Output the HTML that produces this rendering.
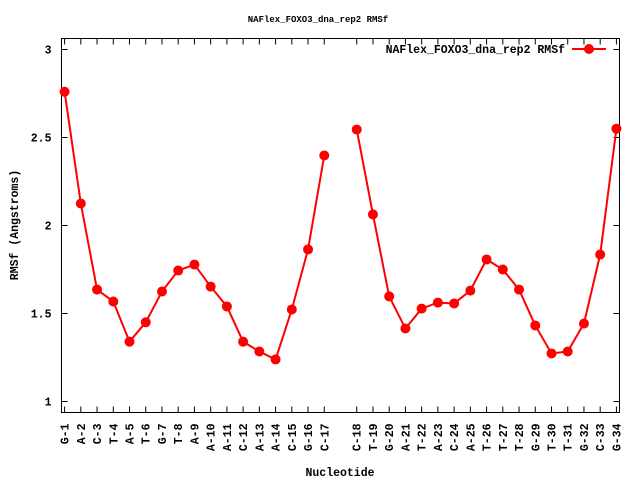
<!DOCTYPE html>
<html><head><meta charset="utf-8"><style>
body{margin:0;background:#fff}
svg{display:block}
text{font-family:"Liberation Mono","DejaVu Sans Mono",monospace;font-weight:bold;font-size:11.5px;fill:#000}
</style></head><body>
<svg id="chart" width="640" height="480" xmlns="http://www.w3.org/2000/svg">
<text x="318" y="22" text-anchor="middle" style="font-size:9px">NAFlex_FOXO3_dna_rep2 RMSf</text>
<text transform="translate(18,225) rotate(-90)" text-anchor="middle">RMSf (Angstroms)</text>
<text x="340" y="476" text-anchor="middle">Nucleotide</text>
<rect x="61.5" y="38.5" width="558" height="374" fill="none" stroke="#000"/>
<g id="axes"></g>
<g id="series"></g>
<g>
<text x="565" y="53" text-anchor="end">NAFlex_FOXO3_dna_rep2 RMSf</text>
<line x1="572" y1="49" x2="606" y2="49" stroke="#f00" stroke-width="2"/>
<circle cx="589" cy="49" r="5" fill="#f00"/>
</g>
</svg>
<script>
const categories=["G-1","A-2","C-3","T-4","A-5","T-6","G-7","T-8","A-9","A-10","A-11","C-12","A-13","A-14","C-15","G-16","C-17","C-18","T-19","G-20","A-21","T-22","A-23","C-24","A-25","T-26","T-27","T-28","G-29","T-30","T-31","G-32","C-33","G-34"];
const slots=[0,1,2,3,4,5,6,7,8,9,10,11,12,13,14,15,16,18,19,20,21,22,23,24,25,26,27,28,29,30,31,32,33,34];
const values=[2.76,2.125,1.636,1.568,1.34,1.45,1.625,1.744,1.778,1.653,1.54,1.34,1.284,1.239,1.523,1.864,2.398,2.545,2.063,1.597,1.415,1.528,1.562,1.557,1.63,1.807,1.75,1.636,1.432,1.273,1.284,1.443,1.835,2.55];
const yTicks=[1,1.5,2,2.5,3];
const yTickLabels=["1","1.5","2","2.5","3"];
const NS="http://www.w3.org/2000/svg";
const X0=61.5,X1=619.5,Y0=412.5,Y1=38.5;
const xmin=-0.19,xmax=34.19,ymin=0.9375,ymax=3.0625;
function xs(i){return X0+(i-xmin)/(xmax-xmin)*(X1-X0);}
function ys(v){return Y0-(v-ymin)/(ymax-ymin)*(Y0-Y1);}
function mk(tag,attrs,parent){const e=document.createElementNS(NS,tag);for(const k in attrs)e.setAttribute(k,attrs[k]);parent.appendChild(e);return e;}
const axes=document.getElementById('axes'),series=document.getElementById('series');
yTicks.forEach((t,i)=>{const y=ys(t);
const l1=mk('line',{x1:X0,x2:X0+6,y1:y,y2:y,stroke:'#000'},axes);


const l2=mk('line',{x1:X1-6,x2:X1,y1:y,y2:y,stroke:'#000'},axes);


const tx=mk('text',{x:X0-10,y:y+4,'text-anchor':'end'},axes);tx.textContent=yTickLabels[i];


});
categories.forEach((c,i)=>{const x=xs(slots[i]);
const l1=mk('line',{x1:x,x2:x,y1:Y0,y2:Y0-6,stroke:'#000'},axes);


const l2=mk('line',{x1:x,x2:x,y1:Y1,y2:Y1+6,stroke:'#000'},axes);


const tx=mk('text',{transform:`translate(${x+4},${Y0+11}) rotate(-90)`,'text-anchor':'end'},axes);tx.textContent=c;


});
let segs=[],cur=[];
slots.forEach((s,i)=>{if(i>0&&s!==slots[i-1]+1){segs.push(cur);cur=[];}cur.push([xs(s),ys(values[i])]);});
segs.push(cur);
segs.forEach(sg=>{const p=mk('polyline',{points:sg.map(q=>q.join(',')).join(' '),fill:'none',stroke:'#f00','stroke-width':2},series);

});
slots.forEach((s,i)=>{const c=mk('circle',{cx:xs(s),cy:ys(values[i]),r:5,fill:'#f00'},series);

});
</script>
</body></html>
